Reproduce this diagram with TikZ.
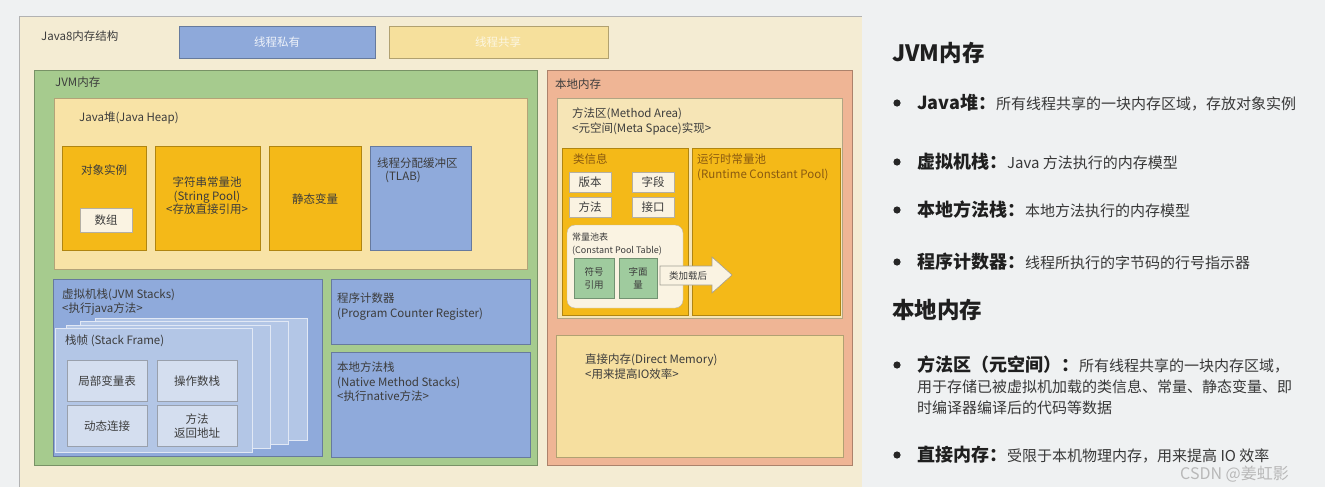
\documentclass[tikz,border=0pt]{standalone}
\usepackage{fontspec}
\setmainfont{Noto Sans CJK SC}

\definecolor{pagebg}{HTML}{EFF1F2}
\definecolor{panel}{HTML}{F4ECD3}
\definecolor{hdrblue}{HTML}{8EA9DA}
\definecolor{hdryellow}{HTML}{F6E09C}
\definecolor{jvmgreen}{HTML}{A6CB8E}
\definecolor{heap}{HTML}{F8E3A6}
\definecolor{gold}{HTML}{F4B918}
\definecolor{stackblue}{HTML}{8FAADB}
\definecolor{frameblue}{HTML}{B3C6E6}
\definecolor{cellblue}{HTML}{D4DEEF}
\definecolor{salmon}{HTML}{EFB595}
\definecolor{metaarea}{HTML}{F6E5B6}
\definecolor{direct}{HTML}{F6DF9F}
\definecolor{cream}{HTML}{FAF3E2}
\definecolor{mint}{HTML}{9FCB9E}
\definecolor{ink}{HTML}{3C3C3C}
\definecolor{brownink}{HTML}{8A5A10}

\newcommand{\itemlabel}[1]{{\fontsize{18}{21}\selectfont\bfseries\color{black!88}#1}}

\tikzset{
  box/.style={fill=#1, draw=#1!72!black, line width=.6pt},
  txt/.style={font=\fontsize{11.5}{14.5}\selectfont, text=ink, inner sep=0pt, align=left},
  smalltxt/.style={font=\fontsize{9}{12.5}\selectfont, text=ink, inner sep=0pt, align=left},
  item/.style={font=\fontsize{15}{21}\selectfont, text=black!78, inner sep=0pt, anchor=west, align=left},
  heading/.style={font=\fontsize{22.5}{26}\selectfont\bfseries, text=black!88, inner sep=0pt, anchor=west}
}

\begin{document}
\begin{tikzpicture}[x=1pt, y=-1pt]
	\useasboundingbox (0,0) rectangle (1325,487);
	\fill[pagebg] (0,0) rectangle (1325,487);

	% left panel
	\fill[panel] (19,17) rectangle (862,487);
	\draw[black!30, line width=1pt] (19,487)--(19,17)--(862,17);
	\node[txt, anchor=west] (title) at (41,36) {Java8内存结构};

	\filldraw[box=hdrblue] (179,26) rectangle (375,58);
	\node[txt, text=white!85!hdrblue] (private) at (277,42) {线程私有};
	\filldraw[box=hdryellow] (389,26) rectangle (608,58);
	\node[txt, text=white!70!hdryellow] (shared) at (498,42) {线程共享};

	% JVM memory
	\filldraw[box=jvmgreen] (34,70) rectangle (537,465);
	\node[txt, anchor=west] (jvm) at (55,82) {JVM内存};

	\filldraw[box=heap] (54,98) rectangle (527,269);
	\node[txt, anchor=west] (heaplbl) at (79,118) {Java堆(Java Heap)};

	\filldraw[box=gold] (62,146) rectangle (146,250);
	\node[txt] (objects) at (104,170) {对象实例};
	\filldraw[box=cream] (80,208) rectangle (132,232);
	\node[txt] (array) at (106,220) {数组};

	\filldraw[box=gold] (155,146) rectangle (260,250);
	\node[txt, align=center, font=\fontsize{11.5}{13.5}\selectfont] (strpool) at (207,196) {字符串常量池\\(String Pool)\\<存放直接引用>};

	\filldraw[box=gold] (269,146) rectangle (361,250);
	\node[txt] (statics) at (315,199) {静态变量};

	\filldraw[box=stackblue] (370,146) rectangle (471,250);
	\node[txt, anchor=north west, font=\fontsize{11.5}{12.5}\selectfont] (tlab) at (377,158) {线程分配缓冲区\\\hspace{8pt}(TLAB)};

	% JVM stacks
	\filldraw[box=stackblue] (53,279) rectangle (322,456);
	\node[txt, anchor=north west, font=\fontsize{11.5}{13.5}\selectfont] (jvmstack) at (62,289) {虚拟机栈(JVM Stacks)\\<执行java方法>};

	\filldraw[fill=frameblue, draw=white!60!frameblue] (95,318) rectangle (307,440);
	\filldraw[fill=frameblue, draw=white!60!frameblue] (80,321) rectangle (288,444);
	\filldraw[fill=frameblue, draw=white!60!frameblue] (66,325) rectangle (270,448);
	\filldraw[fill=frameblue, draw=white!60!frameblue] (55,328) rectangle (252,452);
	\node[txt, anchor=west] (frame) at (65,341) {栈帧\ (Stack Frame)};

	\filldraw[box=cellblue] (67,360) rectangle (147,401);
	\node[txt] (locals) at (107,381) {局部变量表};
	\filldraw[box=cellblue] (157,360) rectangle (237,401);
	\node[txt] (operands) at (197,381) {操作数栈};
	\filldraw[box=cellblue] (67,405) rectangle (147,446);
	\node[txt] (dynlink) at (107,426) {动态连接};
	\filldraw[box=cellblue] (157,405) rectangle (237,446);
	\node[txt, align=center, font=\fontsize{11.5}{14}\selectfont] (retaddr) at (197,426) {方法\\返回地址};

	\filldraw[box=stackblue] (331,279) rectangle (530,344);
	\node[txt, anchor=north west] (pc) at (337,293) {程序计数器\\(Program Counter Register)};

	\filldraw[box=stackblue] (331,352) rectangle (530,457);
	\node[txt, anchor=north west] (native) at (337,362) {本地方法栈\\(Native Method Stacks)\\<执行native方法>};

	% native memory
	\filldraw[box=salmon] (547,70) rectangle (852,465);
	\node[txt, anchor=west] (local) at (555,84) {本地内存};

	\filldraw[box=metaarea] (557,98) rectangle (842,318);
	\node[txt, anchor=north west] (method) at (572,108) {方法区(Method Area)\\<元空间(Meta Space)实现>};

	\filldraw[box=gold] (562,148) rectangle (688,315);
	\node[txt, anchor=west, text=brownink] (classinfo) at (573,159) {类信息};
	\filldraw[box=gold] (692,148) rectangle (840,315);
	\node[txt, anchor=north west, text=brownink] (rcp) at (697,154) {运行时常量池\\(Runtime Constant Pool)};

	\filldraw[box=cream] (569,172) rectangle (611,192);
	\node[txt] (version) at (590,182) {版本};
	\filldraw[box=cream] (632,172) rectangle (674,192);
	\node[txt] (field) at (653,182) {字段};
	\filldraw[box=cream] (569,197) rectangle (611,217);
	\node[txt] (methods) at (590,207) {方法};
	\filldraw[box=cream] (632,197) rectangle (674,217);
	\node[txt] (iface) at (653,207) {接口};

	\filldraw[fill=cream, draw=cream!75!black, rounded corners=8pt] (567,225) rectangle (683,308);
	\node[smalltxt, anchor=north west] (cptable) at (572,233) {常量池表\\(Constant Pool Table)};
	\filldraw[box=mint] (574,258) rectangle (614,298);
	\node[smalltxt, align=center, font=\fontsize{9.5}{13}\selectfont] (symref) at (594,278) {符号\\引用};
	\filldraw[box=mint] (619,258) rectangle (657,298);
	\node[smalltxt, align=center, font=\fontsize{9.5}{13}\selectfont] (literal) at (638,278) {字面\\量};

	\filldraw[fill=cream, draw=cream!65!black, line width=.6pt]
		(660,266)--(712,266)--(712,257)--(732,275)--(712,293)--(712,285)--(660,285)--cycle;
	\node[smalltxt, font=\fontsize{9.5}{12}\selectfont] (loaded) at (688,276) {类加载后};

	\filldraw[box=direct] (556,335) rectangle (843,457);
	\node[txt, anchor=north west] (directmem) at (585,354) {直接内存(Direct Memory)\\<用来提高IO效率>};

	% notes on the right
	\node[heading] (h1) at (892,53) {JVM内存};
	\foreach \y in {103,162,210,262,365,455}
		\fill[black!85] (897,\y) circle (3.6);
	\node[item] (n1) at (917,103) {\itemlabel{Java堆：}所有线程共享的一块内存区域，存放对象实例};
	\node[item] (n2) at (917,162) {\itemlabel{虚拟机栈：}Java 方法执行的内存模型};
	\node[item] (n3) at (917,210) {\itemlabel{本地方法栈：}本地方法执行的内存模型};
	\node[item] (n4) at (917,262) {\itemlabel{程序计数器：}线程所执行的字节码的行号指示器};

	\node[heading] (h2) at (892,310) {本地内存};
	\node[item] (n5) at (917,365) {\itemlabel{方法区（元空间）：}所有线程共享的一块内存区域，};
	\node[item, anchor=north west] (n5b) at (917,380) {用于存储已被虚拟机加载的类信息、常量、静态变量、即\\时编译器编译后的代码等数据};
	\node[item] (n6) at (917,455) {\itemlabel{直接内存：}受限于本机物理内存，用来提高 IO 效率};

	\node[item, font=\fontsize{16}{19}\selectfont, text=black!28] (mark) at (1180,474) {CSDN @姜虹影};
\end{tikzpicture}
\end{document}
